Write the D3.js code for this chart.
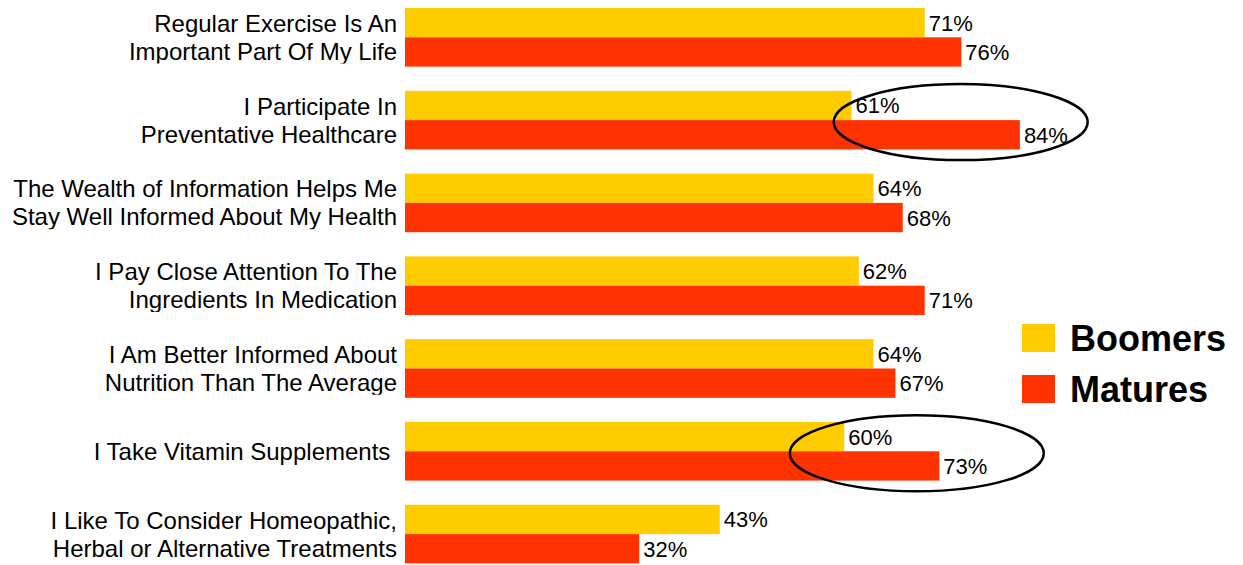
<!DOCTYPE html>
<html>
<head>
<meta charset="utf-8">
<script src="https://cdn.jsdelivr.net/npm/d3@7"></script>
<style>
  html, body { margin: 0; padding: 0; background: #fff; }
  svg { display: block; }
  text { font-family: "Liberation Sans", Arial, Helvetica, sans-serif; fill: #000; }
</style>
</head>
<body>
<svg id="chart" width="1243" height="565"></svg>
<script>
// Survey statements (line breaks mark where each label wraps)
const categories = [
  "Regular Exercise Is An\nImportant Part Of My Life",
  "I Participate In\nPreventative Healthcare",
  "The Wealth of Information Helps Me\nStay Well Informed About My Health",
  "I Pay Close Attention To The\nIngredients In Medication",
  "I Am Better Informed About\nNutrition Than The Average",
  "I Take Vitamin Supplements ",
  "I Like To Consider Homeopathic,\nHerbal or Alternative Treatments"
];
const seriesNames = ["Boomers", "Matures"];
const boomers = [71, 61, 64, 62, 64, 60, 43];
const matures = [76, 84, 68, 71, 67, 73, 32];
const highlighted = [
  "I Participate In\nPreventative Healthcare",
  "I Take Vitamin Supplements "
];

const colors = { Boomers: "#FFCC00", Matures: "#FF3300" };
const seriesValues = { Boomers: boomers, Matures: matures };

const svg = d3.select("#chart");

const x = d3.scaleLinear().domain([0, 100]).range([405, 1137]);
const y = d3.scaleBand().domain(categories).range([8, 563.4])
  .paddingInner(0.292).paddingOuter(0);
const ySub = d3.scaleBand().domain(seriesNames).range([0, y.bandwidth()]);

const rows = categories.map((c, i) => ({
  cat: c, i,
  vals: seriesNames.map(s => ({ series: s, value: seriesValues[s][i] }))
}));

// clip each category label just above the bottom of its bar group
const defs = svg.append("defs");
rows.forEach(r => {
  defs.append("clipPath").attr("id", "clip" + r.i)
    .append("rect")
    .attr("x", 0).attr("y", y(r.cat) - 20)
    .attr("width", 402).attr("height", y.bandwidth() + 17);
});

const groups = svg.selectAll("g.row").data(rows).join("g")
  .attr("class", "row")
  .attr("transform", d => `translate(0,${y(d.cat)})`);

// bars
groups.selectAll("rect.bar").data(d => d.vals).join("rect")
  .attr("class", "bar")
  .attr("x", x(0))
  .attr("y", d => ySub(d.series))
  .attr("width", d => x(d.value) - x(0))
  .attr("height", ySub.bandwidth())
  .attr("fill", d => colors[d.series]);

// value labels
groups.selectAll("text.val").data(d => d.vals).join("text")
  .attr("class", "val")
  .attr("x", d => x(d.value) + 4)
  .attr("y", d => ySub(d.series) + ySub.bandwidth() / 2 + 8)
  .attr("font-size", 22)
  .text(d => d.value + "%");

// category labels
const lineH = 28;
svg.selectAll("text.cat").data(rows).join("text")
  .attr("class", "cat")
  .attr("clip-path", d => `url(#clip${d.i})`)
  .attr("text-anchor", "end")
  .attr("font-size", 24)
  .style("white-space", "pre")
  .each(function (d) {
    const lines = d.cat.split("\n");
    const cy = y(d.cat) + y.bandwidth() / 2;
    const first = cy - (lines.length - 1) * lineH / 2 + 8.5;
    d3.select(this).selectAll("tspan").data(lines).join("tspan")
      .attr("x", 397)
      .attr("y", (l, k) => first + k * lineH)
      .text(l => l);
  });

// highlight ellipses around selected comparisons
svg.selectAll("ellipse.hl").data(highlighted).join("ellipse")
  .attr("class", "hl")
  .attr("cx", c => {
    const i = categories.indexOf(c);
    return (x(boomers[i]) + x(matures[i]) + 50) / 2;
  })
  .attr("cy", c => y(c) + y.bandwidth() / 2 + 2)
  .attr("rx", 127)
  .attr("ry", 38)
  .attr("fill", "none")
  .attr("stroke", "#000")
  .attr("stroke-width", 2.5);

// legend
const legend = svg.append("g").attr("transform", "translate(1022,324)");
const lg = legend.selectAll("g").data(seriesNames).join("g")
  .attr("transform", (d, i) => `translate(0,${i * 51})`);
lg.append("rect").attr("width", 33).attr("height", 28)
  .attr("fill", d => colors[d]);
lg.append("text").attr("x", 48).attr("y", 27)
  .attr("font-size", 36).attr("font-weight", "bold")
  .text(d => d);
</script>
</body>
</html>
